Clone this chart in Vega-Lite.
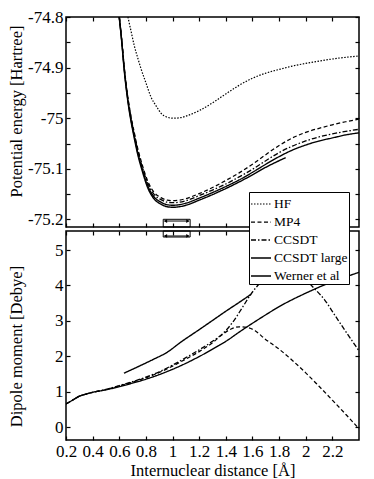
{
  "$schema": "https://vega.github.io/schema/vega-lite/v6.json",
  "autosize": {"type": "pad"},
  "padding": {"left": 7, "top": 7, "right": 16, "bottom": 6},
  "background": "white",
  "spacing": 0,
  "config": {
    "view": {"stroke": "black", "strokeWidth": 1.5},
    "axis": {"domain": false, "grid": false, "labelFont": "Liberation Serif", "titleFont": "Liberation Serif", "labelFontSize": 17, "titleFontSize": 16.5, "titleFontWeight": "normal", "tickColor": "black", "labelColor": "black", "titleColor": "black", "tickSize": -4, "tickWidth": 1.2, "labelOverlap": false, "labelFlush": false},
    "legend": {"orient": "none", "legendX": 183, "legendY": 175, "title": null, "symbolType": "stroke", "symbolSize": 400, "symbolStrokeColor": "black", "labelFont": "Liberation Serif", "labelFontSize": 13.5, "labelColor": "black", "labelOffset": 2, "strokeColor": "black", "fillColor": "white", "padding": 1, "rowPadding": -13}
  },
  "datasets": {
    "energy": [
      {"method": "HF", "x": 0.665, "y": -74.8},
      {"method": "HF", "x": 0.69, "y": -74.83},
      {"method": "HF", "x": 0.712, "y": -74.856},
      {"method": "HF", "x": 0.74, "y": -74.882},
      {"method": "HF", "x": 0.763, "y": -74.902},
      {"method": "HF", "x": 0.8, "y": -74.93},
      {"method": "HF", "x": 0.838, "y": -74.958},
      {"method": "HF", "x": 0.88, "y": -74.977},
      {"method": "HF", "x": 0.913, "y": -74.99},
      {"method": "HF", "x": 0.96, "y": -74.998},
      {"method": "HF", "x": 1.01, "y": -75.0},
      {"method": "HF", "x": 1.06, "y": -74.999},
      {"method": "HF", "x": 1.1, "y": -74.996},
      {"method": "HF", "x": 1.2, "y": -74.985},
      {"method": "HF", "x": 1.31, "y": -74.968},
      {"method": "HF", "x": 1.4, "y": -74.952},
      {"method": "HF", "x": 1.5, "y": -74.935},
      {"method": "HF", "x": 1.6, "y": -74.921},
      {"method": "HF", "x": 1.7, "y": -74.911},
      {"method": "HF", "x": 1.81, "y": -74.903},
      {"method": "HF", "x": 1.9, "y": -74.897},
      {"method": "HF", "x": 2.06, "y": -74.889},
      {"method": "HF", "x": 2.2, "y": -74.883},
      {"method": "HF", "x": 2.4, "y": -74.877},
      {"method": "MP4", "x": 0.6, "y": -74.8},
      {"method": "MP4", "x": 0.62, "y": -74.849},
      {"method": "MP4", "x": 0.637, "y": -74.898},
      {"method": "MP4", "x": 0.66, "y": -74.95},
      {"method": "MP4", "x": 0.688, "y": -74.996},
      {"method": "MP4", "x": 0.71, "y": -75.025},
      {"method": "MP4", "x": 0.738, "y": -75.059},
      {"method": "MP4", "x": 0.77, "y": -75.09},
      {"method": "MP4", "x": 0.813, "y": -75.124},
      {"method": "MP4", "x": 0.86, "y": -75.146},
      {"method": "MP4", "x": 0.913, "y": -75.157},
      {"method": "MP4", "x": 0.96, "y": -75.162},
      {"method": "MP4", "x": 1.0, "y": -75.163},
      {"method": "MP4", "x": 1.05, "y": -75.162},
      {"method": "MP4", "x": 1.1, "y": -75.159},
      {"method": "MP4", "x": 1.2, "y": -75.149},
      {"method": "MP4", "x": 1.3, "y": -75.137},
      {"method": "MP4", "x": 1.4, "y": -75.123},
      {"method": "MP4", "x": 1.5, "y": -75.108},
      {"method": "MP4", "x": 1.6, "y": -75.091},
      {"method": "MP4", "x": 1.7, "y": -75.072},
      {"method": "MP4", "x": 1.8, "y": -75.054},
      {"method": "MP4", "x": 1.9, "y": -75.039},
      {"method": "MP4", "x": 2.0, "y": -75.028},
      {"method": "MP4", "x": 2.1, "y": -75.02},
      {"method": "MP4", "x": 2.2, "y": -75.013},
      {"method": "MP4", "x": 2.3, "y": -75.007},
      {"method": "MP4", "x": 2.4, "y": -75.002},
      {"method": "CCSDT", "x": 0.6, "y": -74.8},
      {"method": "CCSDT", "x": 0.62, "y": -74.85},
      {"method": "CCSDT", "x": 0.637, "y": -74.9},
      {"method": "CCSDT", "x": 0.66, "y": -74.952},
      {"method": "CCSDT", "x": 0.688, "y": -74.999},
      {"method": "CCSDT", "x": 0.71, "y": -75.028},
      {"method": "CCSDT", "x": 0.738, "y": -75.063},
      {"method": "CCSDT", "x": 0.77, "y": -75.094},
      {"method": "CCSDT", "x": 0.813, "y": -75.128},
      {"method": "CCSDT", "x": 0.86, "y": -75.15},
      {"method": "CCSDT", "x": 0.913, "y": -75.161},
      {"method": "CCSDT", "x": 0.96, "y": -75.166},
      {"method": "CCSDT", "x": 1.0, "y": -75.167},
      {"method": "CCSDT", "x": 1.05, "y": -75.166},
      {"method": "CCSDT", "x": 1.1, "y": -75.163},
      {"method": "CCSDT", "x": 1.2, "y": -75.153},
      {"method": "CCSDT", "x": 1.3, "y": -75.142},
      {"method": "CCSDT", "x": 1.4, "y": -75.13},
      {"method": "CCSDT", "x": 1.5, "y": -75.116},
      {"method": "CCSDT", "x": 1.6, "y": -75.101},
      {"method": "CCSDT", "x": 1.7, "y": -75.084},
      {"method": "CCSDT", "x": 1.8, "y": -75.068},
      {"method": "CCSDT", "x": 1.9, "y": -75.055},
      {"method": "CCSDT", "x": 2.0, "y": -75.045},
      {"method": "CCSDT", "x": 2.1, "y": -75.037},
      {"method": "CCSDT", "x": 2.2, "y": -75.031},
      {"method": "CCSDT", "x": 2.3, "y": -75.026},
      {"method": "CCSDT", "x": 2.4, "y": -75.022},
      {"method": "CCSDT large", "x": 0.6, "y": -74.8},
      {"method": "CCSDT large", "x": 0.62, "y": -74.852},
      {"method": "CCSDT large", "x": 0.637, "y": -74.902},
      {"method": "CCSDT large", "x": 0.66, "y": -74.955},
      {"method": "CCSDT large", "x": 0.688, "y": -75.003},
      {"method": "CCSDT large", "x": 0.71, "y": -75.032},
      {"method": "CCSDT large", "x": 0.738, "y": -75.067},
      {"method": "CCSDT large", "x": 0.77, "y": -75.098},
      {"method": "CCSDT large", "x": 0.813, "y": -75.133},
      {"method": "CCSDT large", "x": 0.86, "y": -75.155},
      {"method": "CCSDT large", "x": 0.913, "y": -75.166},
      {"method": "CCSDT large", "x": 0.96, "y": -75.171},
      {"method": "CCSDT large", "x": 1.0, "y": -75.172},
      {"method": "CCSDT large", "x": 1.05, "y": -75.171},
      {"method": "CCSDT large", "x": 1.1, "y": -75.168},
      {"method": "CCSDT large", "x": 1.2, "y": -75.158},
      {"method": "CCSDT large", "x": 1.3, "y": -75.147},
      {"method": "CCSDT large", "x": 1.4, "y": -75.135},
      {"method": "CCSDT large", "x": 1.5, "y": -75.122},
      {"method": "CCSDT large", "x": 1.6, "y": -75.107},
      {"method": "CCSDT large", "x": 1.7, "y": -75.091},
      {"method": "CCSDT large", "x": 1.8, "y": -75.076},
      {"method": "CCSDT large", "x": 1.9, "y": -75.063},
      {"method": "CCSDT large", "x": 2.0, "y": -75.053},
      {"method": "CCSDT large", "x": 2.1, "y": -75.045},
      {"method": "CCSDT large", "x": 2.2, "y": -75.039},
      {"method": "CCSDT large", "x": 2.3, "y": -75.033},
      {"method": "CCSDT large", "x": 2.4, "y": -75.029},
      {"method": "Werner et al", "x": 0.6, "y": -74.8},
      {"method": "Werner et al", "x": 0.62, "y": -74.854},
      {"method": "Werner et al", "x": 0.637, "y": -74.905},
      {"method": "Werner et al", "x": 0.66, "y": -74.958},
      {"method": "Werner et al", "x": 0.688, "y": -75.006},
      {"method": "Werner et al", "x": 0.71, "y": -75.036},
      {"method": "Werner et al", "x": 0.738, "y": -75.071},
      {"method": "Werner et al", "x": 0.77, "y": -75.102},
      {"method": "Werner et al", "x": 0.813, "y": -75.137},
      {"method": "Werner et al", "x": 0.86, "y": -75.159},
      {"method": "Werner et al", "x": 0.913, "y": -75.17},
      {"method": "Werner et al", "x": 0.96, "y": -75.175},
      {"method": "Werner et al", "x": 1.0, "y": -75.176},
      {"method": "Werner et al", "x": 1.05, "y": -75.175},
      {"method": "Werner et al", "x": 1.1, "y": -75.172},
      {"method": "Werner et al", "x": 1.2, "y": -75.162},
      {"method": "Werner et al", "x": 1.3, "y": -75.151},
      {"method": "Werner et al", "x": 1.4, "y": -75.139},
      {"method": "Werner et al", "x": 1.5, "y": -75.126},
      {"method": "Werner et al", "x": 1.6, "y": -75.112},
      {"method": "Werner et al", "x": 1.7, "y": -75.097},
      {"method": "Werner et al", "x": 1.8, "y": -75.084},
      {"method": "Werner et al", "x": 1.85, "y": -75.078}
    ],
    "dipole": [
      {"method": "MP4", "x": 0.2, "y": 0.65},
      {"method": "MP4", "x": 0.25, "y": 0.76},
      {"method": "MP4", "x": 0.3, "y": 0.87},
      {"method": "MP4", "x": 0.35, "y": 0.93},
      {"method": "MP4", "x": 0.4, "y": 0.98},
      {"method": "MP4", "x": 0.5, "y": 1.06},
      {"method": "MP4", "x": 0.6, "y": 1.16},
      {"method": "MP4", "x": 0.7, "y": 1.27},
      {"method": "MP4", "x": 0.8, "y": 1.39},
      {"method": "MP4", "x": 0.9, "y": 1.54},
      {"method": "MP4", "x": 1.0, "y": 1.72},
      {"method": "MP4", "x": 1.1, "y": 1.92},
      {"method": "MP4", "x": 1.2, "y": 2.13},
      {"method": "MP4", "x": 1.3, "y": 2.38},
      {"method": "MP4", "x": 1.38, "y": 2.63},
      {"method": "MP4", "x": 1.44, "y": 2.77},
      {"method": "MP4", "x": 1.5, "y": 2.83},
      {"method": "MP4", "x": 1.56, "y": 2.81},
      {"method": "MP4", "x": 1.62, "y": 2.72},
      {"method": "MP4", "x": 1.69, "y": 2.5},
      {"method": "MP4", "x": 1.8, "y": 2.2},
      {"method": "MP4", "x": 1.9, "y": 1.88},
      {"method": "MP4", "x": 2.0, "y": 1.53},
      {"method": "MP4", "x": 2.1, "y": 1.15},
      {"method": "MP4", "x": 2.2, "y": 0.76},
      {"method": "MP4", "x": 2.3, "y": 0.36},
      {"method": "MP4", "x": 2.4, "y": -0.05},
      {"method": "CCSDT", "x": 0.2, "y": 0.65},
      {"method": "CCSDT", "x": 0.25, "y": 0.76},
      {"method": "CCSDT", "x": 0.3, "y": 0.87},
      {"method": "CCSDT", "x": 0.35, "y": 0.93},
      {"method": "CCSDT", "x": 0.4, "y": 0.98},
      {"method": "CCSDT", "x": 0.5, "y": 1.06},
      {"method": "CCSDT", "x": 0.6, "y": 1.17},
      {"method": "CCSDT", "x": 0.7, "y": 1.28},
      {"method": "CCSDT", "x": 0.8, "y": 1.41},
      {"method": "CCSDT", "x": 0.9, "y": 1.56},
      {"method": "CCSDT", "x": 1.0, "y": 1.75},
      {"method": "CCSDT", "x": 1.1, "y": 1.96},
      {"method": "CCSDT", "x": 1.2, "y": 2.18},
      {"method": "CCSDT", "x": 1.3, "y": 2.42},
      {"method": "CCSDT", "x": 1.38, "y": 2.65},
      {"method": "CCSDT", "x": 1.45, "y": 2.95},
      {"method": "CCSDT", "x": 1.52, "y": 3.35},
      {"method": "CCSDT", "x": 1.59, "y": 3.76},
      {"method": "CCSDT", "x": 1.66, "y": 4.08},
      {"method": "CCSDT", "x": 1.73, "y": 4.3},
      {"method": "CCSDT", "x": 1.8, "y": 4.39},
      {"method": "CCSDT", "x": 1.87, "y": 4.4},
      {"method": "CCSDT", "x": 1.92, "y": 4.37},
      {"method": "CCSDT", "x": 1.98, "y": 4.22},
      {"method": "CCSDT", "x": 2.06, "y": 3.93},
      {"method": "CCSDT", "x": 2.14, "y": 3.6},
      {"method": "CCSDT", "x": 2.22, "y": 3.15},
      {"method": "CCSDT", "x": 2.3, "y": 2.7},
      {"method": "CCSDT", "x": 2.4, "y": 2.15},
      {"method": "CCSDT large", "x": 0.2, "y": 0.65},
      {"method": "CCSDT large", "x": 0.25, "y": 0.76},
      {"method": "CCSDT large", "x": 0.3, "y": 0.87},
      {"method": "CCSDT large", "x": 0.35, "y": 0.93},
      {"method": "CCSDT large", "x": 0.4, "y": 0.98},
      {"method": "CCSDT large", "x": 0.5, "y": 1.05},
      {"method": "CCSDT large", "x": 0.6, "y": 1.14},
      {"method": "CCSDT large", "x": 0.7, "y": 1.24},
      {"method": "CCSDT large", "x": 0.8, "y": 1.35},
      {"method": "CCSDT large", "x": 0.9, "y": 1.48},
      {"method": "CCSDT large", "x": 1.0, "y": 1.63},
      {"method": "CCSDT large", "x": 1.1, "y": 1.8},
      {"method": "CCSDT large", "x": 1.2, "y": 1.99},
      {"method": "CCSDT large", "x": 1.3, "y": 2.2},
      {"method": "CCSDT large", "x": 1.4, "y": 2.42},
      {"method": "CCSDT large", "x": 1.5, "y": 2.68},
      {"method": "CCSDT large", "x": 1.6, "y": 2.93},
      {"method": "CCSDT large", "x": 1.7, "y": 3.17},
      {"method": "CCSDT large", "x": 1.8, "y": 3.4},
      {"method": "CCSDT large", "x": 1.9, "y": 3.6},
      {"method": "CCSDT large", "x": 2.0, "y": 3.78},
      {"method": "CCSDT large", "x": 2.1, "y": 3.95},
      {"method": "CCSDT large", "x": 2.2, "y": 4.1},
      {"method": "CCSDT large", "x": 2.3, "y": 4.24},
      {"method": "CCSDT large", "x": 2.4, "y": 4.37},
      {"method": "Werner et al", "x": 0.635, "y": 1.52},
      {"method": "Werner et al", "x": 0.75, "y": 1.72},
      {"method": "Werner et al", "x": 0.85, "y": 1.9},
      {"method": "Werner et al", "x": 0.963, "y": 2.12},
      {"method": "Werner et al", "x": 1.063, "y": 2.4},
      {"method": "Werner et al", "x": 1.2, "y": 2.75},
      {"method": "Werner et al", "x": 1.3, "y": 3.01},
      {"method": "Werner et al", "x": 1.4, "y": 3.27},
      {"method": "Werner et al", "x": 1.5, "y": 3.52},
      {"method": "Werner et al", "x": 1.59, "y": 3.75}
    ],
    "boxTop": [{"x1": 0.93, "x2": 1.132, "y1": -75.1998, "y2": -75.215}],
    "boxBottom": [{"x1": 0.93, "x2": 1.132, "y1": 5.537, "y2": 5.367}],
    "arrowTop": [{"xa": 0.94, "xb": 1.122, "y": -75.2032}],
    "arrowBottom": [{"xa": 0.94, "xb": 1.122, "y": 5.396}],
    "headsTop": [
      {"x": 0.947, "y": -75.2032, "end": "left"},
      {"x": 1.115, "y": -75.2032, "end": "right"}
    ],
    "headsBottom": [
      {"x": 0.947, "y": 5.396, "end": "left"},
      {"x": 1.115, "y": 5.396, "end": "right"}
    ]
  },
  "vconcat": [
    {
      "width": 293,
      "height": 210,
      "layer": [
        {
          "data": {"name": "energy"},
          "mark": {"type": "line", "interpolate": "monotone", "clip": true, "color": "black"},
          "encoding": {
            "x": {"field": "x", "type": "quantitative", "scale": {"domain": [0.2, 2.4], "nice": false, "zero": false}, "axis": {"orient": "bottom", "values": [0.2, 0.4, 0.6, 0.8, 1, 1.2, 1.4, 1.6, 1.8, 2, 2.2], "labels": false, "title": null}},
            "y": {"field": "y", "type": "quantitative", "scale": {"domain": [-75.215, -74.8], "nice": false, "zero": false}, "axis": {"orient": "left", "values": [-75.2, -75.15, -75.1, -75.05, -75, -74.95, -74.9, -74.85, -74.8], "labelExpr": "abs(datum.value*10 - round(datum.value*10)) < 0.01 ? '' + datum.value : ''", "labelPadding": 7, "title": "Potential energy [Hartree]", "titleX": -45, "titleY": 94, "titleBaseline": "alphabetic", "titleAngle": 270}},
            "strokeDash": {"field": "method", "type": "nominal", "scale": {"domain": ["HF", "MP4", "CCSDT", "CCSDT large", "Werner et al"], "range": [[1.5, 1.5], [4, 2.5], [5, 2, 1.5, 2], [1, 0], [1, 0]]}, "legend": {"encode": {"symbols": {"update": {"strokeWidth": {"signal": "datum.label === 'Werner et al' ? 3 : (datum.label === 'HF' ? 1.2 : 1.4)"}}}}}},
            "strokeWidth": {"field": "method", "type": "nominal", "scale": {"domain": ["HF", "MP4", "CCSDT", "CCSDT large", "Werner et al"], "range": [1.2, 1.4, 1.4, 1.4, 2.8]}, "legend": null}
          }
        },
        {
          "data": {"name": "boxTop"},
          "mark": {"type": "rect", "fill": "white", "fillOpacity": 0, "stroke": "black", "strokeWidth": 1},
          "encoding": {
            "x": {"field": "x1", "type": "quantitative", "scale": {"domain": [0.2, 2.4], "nice": false, "zero": false}, "axis": {"orient": "top", "values": [0.2, 0.4, 0.6, 0.8, 1, 1.2, 1.4, 1.6, 1.8, 2, 2.2], "labels": false, "title": null}},
            "x2": {"field": "x2"},
            "y": {"field": "y1", "type": "quantitative", "scale": {"domain": [-75.215, -74.8], "nice": false, "zero": false}, "axis": {"orient": "right", "values": [-75.2, -75.15, -75.1, -75.05, -75, -74.95, -74.9, -74.85, -74.8], "labels": false, "title": null}},
            "y2": {"field": "y2"}
          }
        },
        {
          "data": {"name": "arrowTop"},
          "mark": {"type": "rule", "color": "black", "strokeWidth": 1},
          "encoding": {
            "x": {"field": "xa", "type": "quantitative", "scale": {"domain": [0.2, 2.4], "nice": false, "zero": false}, "axis": null},
            "x2": {"field": "xb"},
            "y": {"field": "y", "type": "quantitative", "scale": {"domain": [-75.215, -74.8], "nice": false, "zero": false}, "axis": null}
          }
        },
        {
          "data": {"name": "headsTop"},
          "mark": {"type": "point", "filled": true, "color": "black", "size": 14, "opacity": 1},
          "encoding": {
            "x": {"field": "x", "type": "quantitative", "scale": {"domain": [0.2, 2.4], "nice": false, "zero": false}, "axis": null},
            "y": {"field": "y", "type": "quantitative", "scale": {"domain": [-75.215, -74.8], "nice": false, "zero": false}, "axis": null},
            "shape": {"field": "end", "type": "nominal", "scale": {"domain": ["left", "right"], "range": ["triangle-left", "triangle-right"]}, "legend": null}
          }
        }
      ],
      "resolve": {"scale": {"x": "independent", "y": "independent"}}
    },
    {
      "width": 293,
      "height": 209,
      "layer": [
        {
          "data": {"name": "dipole"},
          "mark": {"type": "line", "interpolate": "monotone", "clip": true, "color": "black"},
          "encoding": {
            "x": {"field": "x", "type": "quantitative", "scale": {"domain": [0.2, 2.4], "nice": false, "zero": false}, "axis": {"orient": "bottom", "values": [0.2, 0.4, 0.6, 0.8, 1, 1.2, 1.4, 1.6, 1.8, 2, 2.2], "labelExpr": "'' + datum.value", "labelPadding": 7, "title": "Internuclear distance [Å]", "titleY": 35, "titleBaseline": "alphabetic"}},
            "y": {"field": "y", "type": "quantitative", "scale": {"domain": [-0.367, 5.537], "nice": false, "zero": false}, "axis": {"orient": "left", "values": [0, 1, 2, 3, 4, 5], "labelExpr": "'' + datum.value", "labelPadding": 7, "title": "Dipole moment [Debye]", "titleX": -45, "titleY": 115, "titleBaseline": "alphabetic", "titleAngle": 270}},
            "strokeDash": {"field": "method", "type": "nominal", "scale": {"domain": ["HF", "MP4", "CCSDT", "CCSDT large", "Werner et al"], "range": [[1.5, 1.5], [3, 2], [4, 2, 1.5, 2], [1, 0], [1, 0]]}, "legend": null},
            "strokeWidth": {"field": "method", "type": "nominal", "scale": {"domain": ["HF", "MP4", "CCSDT", "CCSDT large", "Werner et al"], "range": [1.2, 1.4, 1.4, 1.5, 2.8]}, "legend": null}
          }
        },
        {
          "data": {"name": "boxBottom"},
          "mark": {"type": "rect", "fill": "white", "fillOpacity": 0, "stroke": "black", "strokeWidth": 1},
          "encoding": {
            "x": {"field": "x1", "type": "quantitative", "scale": {"domain": [0.2, 2.4], "nice": false, "zero": false}, "axis": {"orient": "top", "values": [0.2, 0.4, 0.6, 0.8, 1, 1.2, 1.4, 1.6, 1.8, 2, 2.2], "labels": false, "title": null}},
            "x2": {"field": "x2"},
            "y": {"field": "y1", "type": "quantitative", "scale": {"domain": [-0.367, 5.537], "nice": false, "zero": false}, "axis": {"orient": "right", "values": [0, 1, 2, 3, 4, 5], "labels": false, "title": null}},
            "y2": {"field": "y2"}
          }
        },
        {
          "data": {"name": "arrowBottom"},
          "mark": {"type": "rule", "color": "black", "strokeWidth": 1},
          "encoding": {
            "x": {"field": "xa", "type": "quantitative", "scale": {"domain": [0.2, 2.4], "nice": false, "zero": false}, "axis": null},
            "x2": {"field": "xb"},
            "y": {"field": "y", "type": "quantitative", "scale": {"domain": [-0.367, 5.537], "nice": false, "zero": false}, "axis": null}
          }
        },
        {
          "data": {"name": "headsBottom"},
          "mark": {"type": "point", "filled": true, "color": "black", "size": 14, "opacity": 1},
          "encoding": {
            "x": {"field": "x", "type": "quantitative", "scale": {"domain": [0.2, 2.4], "nice": false, "zero": false}, "axis": null},
            "y": {"field": "y", "type": "quantitative", "scale": {"domain": [-0.367, 5.537], "nice": false, "zero": false}, "axis": null},
            "shape": {"field": "end", "type": "nominal", "scale": {"domain": ["left", "right"], "range": ["triangle-left", "triangle-right"]}, "legend": null}
          }
        }
      ],
      "resolve": {"scale": {"x": "independent", "y": "independent"}}
    }
  ]
}
